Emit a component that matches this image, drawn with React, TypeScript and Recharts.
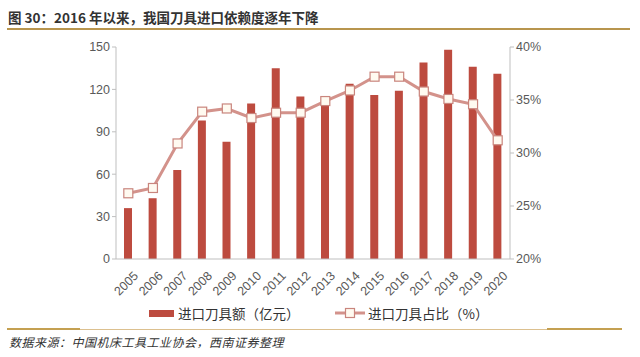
import React from "react";
import { ComposedChart, Bar, Line, XAxis, YAxis } from "recharts";

const years = ["2005","2006","2007","2008","2009","2010","2011","2012","2013","2014","2015","2016","2017","2018","2019","2020"];
const importValue = [36, 43, 63, 98, 83, 110, 135, 115, 115, 124, 116, 119, 139, 148, 136, 131];
const importShare = [26.2, 26.7, 30.9, 33.9, 34.2, 33.3, 33.8, 33.8, 34.9, 35.9, 37.2, 37.2, 35.8, 35.1, 34.6, 31.2];
const leftTicks = [0, 30, 60, 90, 120, 150];
const rightTicks = [20, 25, 30, 35, 40];

const titleText = "图 30：2016 年以来，我国刀具进口依赖度逐年下降";
const sourceText = "数据来源：中国机床工具工业协会，西南证券整理";
const barName = "进口刀具额（亿元）";
const lineName = "进口刀具占比（%）";

const data = years.map((y, i) => ({ year: y, value: importValue[i], share: importShare[i] }));

const BAR_COLOR = "#bd4b3f";
const LINE_COLOR = "#d3928b";
const FONT = "'Liberation Sans', Arial, 'Noto Sans CJK SC', sans-serif";
const CJK = "'Noto Sans CJK SC', sans-serif";

const XTick = (props: any) => {
  const { x, y, payload } = props;
  return (
    <g transform={`translate(${x + 5},${y + 4})`}>
      <text transform="rotate(-45)" textAnchor="end" dy={8} fontSize={12.5} fill="#595959" fontFamily={FONT}>
        {payload.value}
      </text>
    </g>
  );
};

const SquareDot = (props: any) => {
  const { cx, cy, index } = props;
  if (cx == null || cy == null) return null;
  return <rect key={index} x={cx - 4.5} y={cy - 4.5} width={9} height={9} fill="#fffaf0" stroke="#c9857d" strokeWidth={1.2} />;
};

export default function App() {
  return (
    <div style={{ position: "absolute", left: 0, top: 0, width: 640, height: 357, background: "#fff", overflow: "hidden" }}>
      <div style={{ position: "absolute", left: 8, top: 8, fontFamily: CJK, fontWeight: 700, fontSize: 13.5, color: "#333", whiteSpace: "nowrap", lineHeight: "18px" }}>
        {titleText}
      </div>
      <div style={{ position: "absolute", left: 7, top: 28, width: 623, height: 2, background: "#b8954e" }} />
      <ComposedChart
        width={640}
        height={357}
        data={data}
        margin={{ top: 47, right: 70, bottom: 58, left: 56 }}
        style={{ position: "absolute", left: 0, top: 0 }}
      >
        <XAxis
          dataKey="year"
          tick={<XTick />}
          tickLine={false}
          axisLine={{ stroke: "#bfbfbf" }}
          interval={0}
          height={40}
        />
        <YAxis
          yAxisId="left"
          domain={[0, 150]}
          ticks={leftTicks}
          width={60}
          tick={{ fontSize: 12.5, fill: "#595959", fontFamily: FONT }}
          tickLine={{ stroke: "#bfbfbf" }}
          tickSize={4}
          axisLine={{ stroke: "#bfbfbf" }}
        />
        <YAxis
          yAxisId="right"
          orientation="right"
          domain={[20, 40]}
          ticks={rightTicks}
          width={60}
          tickFormatter={(v: number) => `${v}%`}
          tick={{ fontSize: 12.5, fill: "#595959", fontFamily: FONT }}
          tickLine={{ stroke: "#bfbfbf" }}
          tickSize={4}
          axisLine={{ stroke: "#bfbfbf" }}
        />
        <Bar yAxisId="left" dataKey="value" name={barName} fill={BAR_COLOR} barSize={8} isAnimationActive={false} />
        <Line
          yAxisId="right"
          dataKey="share"
          name={lineName}
          stroke={LINE_COLOR}
          strokeWidth={3}
          dot={<SquareDot />}
          activeDot={false}
          isAnimationActive={false}
        />
      </ComposedChart>
      <div style={{ position: "absolute", left: 149, top: 304, display: "flex", alignItems: "center", fontFamily: CJK, fontSize: 13.5, color: "#333", whiteSpace: "nowrap", lineHeight: "18px" }}>
        <div style={{ width: 25, height: 7, background: BAR_COLOR, marginRight: 4 }} />
        <span>{barName}</span>
      </div>
      <div style={{ position: "absolute", left: 335, top: 304, display: "flex", alignItems: "center", fontFamily: CJK, fontSize: 13.5, color: "#333", whiteSpace: "nowrap", lineHeight: "18px" }}>
        <svg width={30} height={12} style={{ marginRight: 3 }}>
          <line x1={0} y1={6} x2={30} y2={6} stroke={LINE_COLOR} strokeWidth={3} />
          <rect x={10.5} y={1.5} width={9} height={9} fill="#fffaf0" stroke="#c9857d" strokeWidth={1.2} />
        </svg>
        <span>{lineName}</span>
      </div>
      <div style={{ position: "absolute", left: 7, top: 328.5, width: 615, height: 1, background: "#dcc08f" }} />
      <div style={{ position: "absolute", left: 7, top: 328, width: 73, height: 2, background: "#c4a051" }} />
      <div style={{ position: "absolute", left: 547, top: 328, width: 75, height: 2, background: "#c4a051" }} />
      <div style={{ position: "absolute", left: 9, top: 334, fontFamily: CJK, fontStyle: "italic", fontSize: 12, color: "#333", whiteSpace: "nowrap", lineHeight: "16px", letterSpacing: 0.5 }}>
        {sourceText}
      </div>
    </div>
  );
}
